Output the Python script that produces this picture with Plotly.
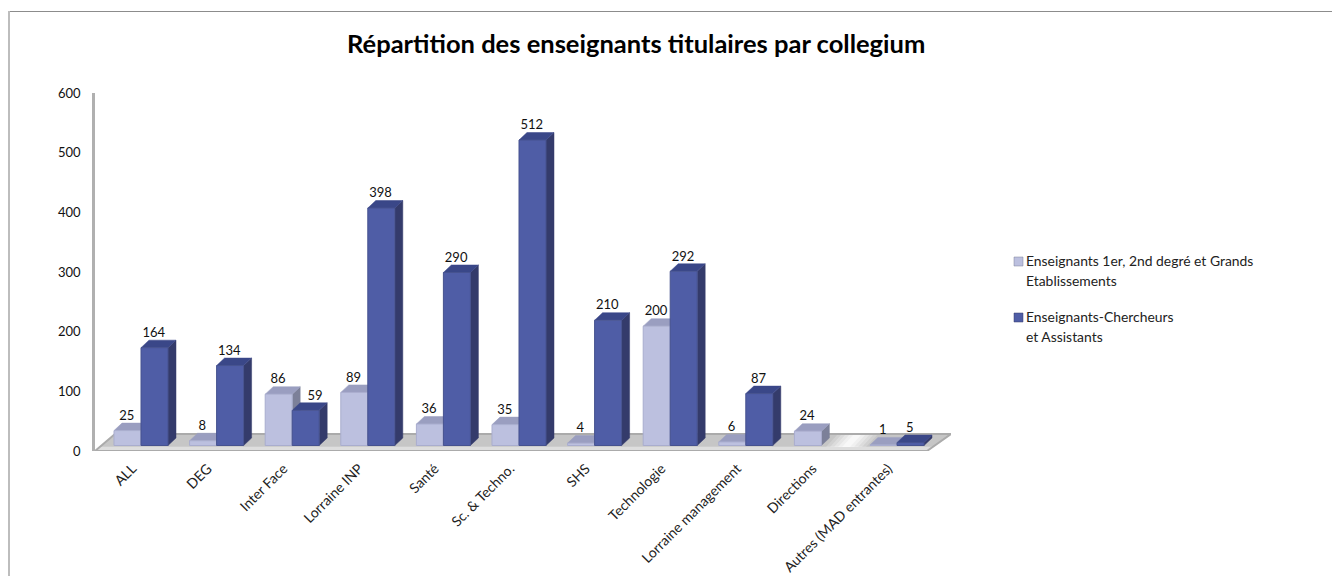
import plotly.graph_objects as go

categories = ["ALL", "DEG", "Inter Face", "Lorraine INP", "Santé", "Sc. & Techno.", "SHS",
              "Technologie", "Lorraine management", "Directions", "Autres (MAD entrantes)"]
enseignants = [25, 8, 86, 89, 36, 35, 4, 200, 6, 24, 1]
chercheurs = [164, 134, 59, 398, 290, 512, 210, 292, 87, None, 5]
y_ticks = [0, 100, 200, 300, 400, 500, 600]
title = "Répartition des enseignants titulaires par collegium"
legend_lines = [["Enseignants 1er, 2nd degré et Grands", "Etablissements"],
                ["Enseignants-Chercheurs", "et Assistants"]]

W, H = 1332, 576
L, R, T, B = 95, 951, 93, 451
FONT = "Lato"
px_per_cat = 75.6
px_per_val = (B - T) / 600
x0_px = 141
xr = [(L - x0_px) / px_per_cat, (R - x0_px) / px_per_cat]
bw = 27 / px_per_cat
ddx = 8 / px_per_cat
ddy = 7.5 / px_per_val
floor_base = 5.5 / px_per_val

LIGHT = dict(front="#BCC0DF", side="#7C8099", top="#9A9EC0", line="#A9ADCE")
DARK = dict(front="#4F5DA6", side="#343B6B", top="#3A4788", line="#46528F")


def cx(px):
    return (px - x0_px) / px_per_cat


def poly(pts, fill, line=None):
    path = "M" + " L".join(f"{x},{y}" for x, y in pts) + " Z"
    return dict(type="path", path=path, xref="x", yref="y", layer="below",
                fillcolor=fill, line=dict(color=line or fill, width=0.5))


def px2paper_x(px):
    return (px - L) / (R - L)


def px2paper_y(py):
    return (B - py) / (B - T)


shapes = []
# floor
back = 17 / px_per_val
shapes.append(poly([(cx(95), 0), (cx(927), 0), (cx(951), back), (cx(115), back)], "#C6C6C6"))
# lighter front lip of the floor
lip = floor_base * 0.75
shapes.append(poly([(cx(95), 0), (cx(927), 0), (cx(927 + 5), lip), (cx(95 + 4), lip)], "#DEDEDE"))
# soft highlight on the floor between the last two groups
for half, op in ((20, 0.2), (16, 0.25), (12, 0.3), (8, 0.4), (4, 0.5)):
    shapes.append(dict(type="path", xref="x", yref="y", layer="below", line=dict(width=0),
                       fillcolor=f"rgba(255,255,255,{op})",
                       path=f"M{cx(846 - half)},{lip} L{cx(846 + half)},{lip} "
                            f"L{cx(858 + half)},{back} L{cx(858 - half)},{back} Z"))
# floor outline
shapes.append(dict(type="path", xref="x", yref="y", layer="below", fillcolor="rgba(0,0,0,0)",
                   line=dict(color="#ABABAB", width=2),
                   path=f"M{cx(95)},0 L{cx(927)},0 L{cx(951)},{back} L{cx(115)},{back} Z"))

for vals, st, sign in ((enseignants, LIGHT, -1), (chercheurs, DARK, 0)):
    for i, v in enumerate(vals):
        if v is None:
            continue
        xl = i + sign * bw
        xr_ = xl + bw
        b = floor_base
        t = floor_base + v
        shapes.append(poly([(xr_, b), (xr_ + ddx, b + ddy), (xr_ + ddx, t + ddy), (xr_, t)], st["side"]))
        shapes.append(poly([(xl, t), (xl + ddx, t + ddy), (xr_ + ddx, t + ddy), (xr_, t)], st["top"]))

# outer frame: only the top and left edges are visible
shapes.append(dict(type="line", xref="paper", yref="paper", layer="below",
                   x0=px2paper_x(8), x1=px2paper_x(1332), y0=px2paper_y(11.5), y1=px2paper_y(11.5),
                   line=dict(color="#8C8C8C", width=1)))
shapes.append(dict(type="line", xref="paper", yref="paper", layer="below",
                   x0=px2paper_x(9), x1=px2paper_x(9), y0=px2paper_y(11), y1=px2paper_y(576),
                   line=dict(color="#BDBDBD", width=2)))

xs = list(range(len(categories)))
fig = go.Figure()
fig.add_bar(x=xs, y=enseignants, base=[floor_base] * len(xs),
            name="Enseignants 1er, 2nd degré et Grands Etablissements",
            marker=dict(color=LIGHT["front"], line=dict(color=LIGHT["line"], width=1)))
fig.add_bar(x=xs, y=chercheurs, base=[floor_base] * len(xs), name="Enseignants-Chercheurs et Assistants",
            marker=dict(color=DARK["front"], line=dict(color=DARK["line"], width=1)))

label_offset = 14 / px_per_val
label_font = dict(family=FONT, size=13, color="#111111")
# the "59" label sits to the right, clear of the taller neighbouring bar
nudge = {2: 10 / px_per_cat}
fig.add_scatter(x=[i - bw / 2 - 0.01 for i in xs], y=[v + floor_base + label_offset for v in enseignants],
                text=[str(v) for v in enseignants], mode="text", showlegend=False,
                textfont=label_font, textposition="middle center")
fig.add_scatter(x=[i + bw / 2 - 0.01 + nudge.get(i, 0) for i, v in zip(xs, chercheurs) if v is not None],
                y=[v + floor_base + label_offset for v in chercheurs if v is not None],
                text=[str(v) for v in chercheurs if v is not None], mode="text", showlegend=False,
                textfont=label_font, textposition="middle center")

annotations = [dict(text=f"<b>{title}</b>", xref="paper", yref="paper", x=px2paper_x(636), y=px2paper_y(43),
                    xanchor="center", yanchor="middle", showarrow=False,
                    font=dict(family=FONT, size=25.5, color="#000000"))]
legend_y = [[260, 280], [316, 336]]
for lines, ys, st in zip(legend_lines, legend_y, (LIGHT, DARK)):
    for line, y in zip(lines, ys):
        annotations.append(dict(text=line, xref="paper", yref="paper", x=px2paper_x(1024), y=px2paper_y(y),
                                xanchor="left", yanchor="middle", showarrow=False,
                                font=dict(family=FONT, size=13.9, color="#222222")))
    shapes.append(dict(type="rect", xref="paper", yref="paper",
                       x0=px2paper_x(1014), x1=px2paper_x(1023),
                       y0=px2paper_y(ys[0] + 6), y1=px2paper_y(ys[0] - 3),
                       fillcolor=st["front"], line=dict(color=st["side"], width=0.5)))

fig.update_layout(
    width=W, height=H, autosize=False, showlegend=False,
    margin=dict(l=L, r=W - R, t=T, b=H - B, pad=0),
    plot_bgcolor="rgba(0,0,0,0)", paper_bgcolor="#FFFFFF",
    barmode="group", bargap=1 - 2 * bw, bargroupgap=0,
    shapes=shapes, annotations=annotations,
    xaxis=dict(range=xr, tickmode="array", tickvals=[x - 0.115 for x in xs], ticktext=categories, tickangle=-45,
               showgrid=False, zeroline=False, showline=False, ticks="outside", ticklen=3, automargin=False,
               tickcolor="rgba(0,0,0,0)", tickfont=dict(family=FONT, size=14, color="#222222")),
    yaxis=dict(range=[0, 600], tickmode="array", tickvals=y_ticks, showgrid=False, zeroline=False,
               showline=True, linecolor="#B0B0B0", linewidth=2.5, ticks="outside", ticklen=9, automargin=False,
               tickcolor="rgba(0,0,0,0)", tickfont=dict(family=FONT, size=13, color="#111111")),
)
fig.write_html("out.html", config={"displayModeBar": False},
               post_script="document.body.style.margin='0';document.body.style.overflow='hidden';")
